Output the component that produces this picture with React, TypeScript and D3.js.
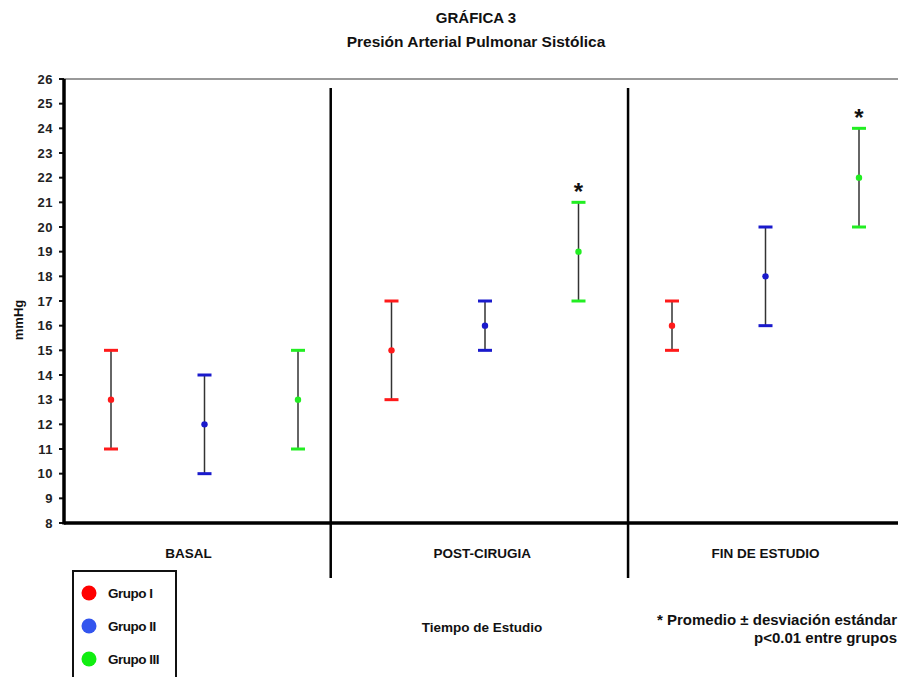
import React from "react";
import * as d3 from "d3";

const categories = ["BASAL", "POST-CIRUGIA", "FIN DE ESTUDIO"];
const groups = ["Grupo I", "Grupo II", "Grupo III"];
const groupColors = ["#ff1a1a", "#1a1acc", "#22ee22"];
const legendColors = ["#ff0000", "#3355ee", "#11ee11"];
// mean, low, high per category per group
const meanValues = [
  [13, 12, 13],
  [15, 16, 19],
  [16, 18, 22],
];
const lowValues = [
  [11, 10, 11],
  [13, 15, 17],
  [15, 16, 20],
];
const highValues = [
  [15, 14, 15],
  [17, 17, 21],
  [17, 20, 24],
];
const significant = [
  [false, false, false],
  [false, false, true],
  [false, false, true],
];
const yTicks = d3.range(8, 27, 1);
const dividerSlots = [2.35, 5.53];
const labelSlots = [0.83, 3.97, 7.0];

const W = 898;
const H = 677;
const FONT = "'Liberation Sans', Arial, sans-serif";

export default function App() {
  const y = d3.scaleLinear().domain([8, 26]).range([523, 79]);
  const slot = d3.scaleLinear().domain([0, 8]).range([111, 859]);
  const x0 = 64;
  const capW = 7;

  return (
    <svg width={W} height={H} style={{ position: "absolute", left: 0, top: 0, background: "#fff" }} fontFamily={FONT}>
      <rect width={W} height={H} fill="#fff" />
      <text x={476} y={23} textAnchor="middle" fontSize={15} fontWeight="bold" fill="#111">GRÁFICA 3</text>
      <text x={476} y={47} textAnchor="middle" fontSize={15.5} fontWeight="bold" fill="#111">Presión Arterial Pulmonar Sistólica</text>

      {/* top border */}
      <line x1={x0} x2={W} y1={y(26)} y2={y(26)} stroke="#777" strokeWidth={1.5} />

      {/* y ticks */}
      {yTicks.map((t) => (
        <g key={t}>
          <line x1={x0 - 5} x2={x0} y1={y(t)} y2={y(t)} stroke="#111" strokeWidth={2} />
          <text x={x0 - 11} y={y(t) + 4.5} textAnchor="end" fontSize={13} fontWeight="bold" fill="#222" letterSpacing={0.5}>{t}</text>
        </g>
      ))}
      <text transform={`translate(23,320) rotate(-90)`} textAnchor="middle" fontSize={13} fontWeight="bold" fill="#111">mmHg</text>

      {/* dividers */}
      {dividerSlots.map((s, i) => (
        <line key={i} x1={slot(s)} x2={slot(s)} y1={88} y2={578} stroke="#000" strokeWidth={2.5} />
      ))}

      {/* axes */}
      <line x1={x0} x2={x0} y1={y(26)} y2={y(8) + 1.5} stroke="#000" strokeWidth={3.5} />
      <line x1={x0} x2={W} y1={y(8)} y2={y(8)} stroke="#000" strokeWidth={3.5} />

      {/* category labels */}
      {categories.map((c, i) => (
        <text key={c} x={slot(labelSlots[i])} y={558} textAnchor="middle" fontSize={13.5} fontWeight="bold" fill="#111">{c}</text>
      ))}

      {/* error bars */}
      {categories.map((c, ci) =>
        groups.map((g, gi) => {
          const cx = slot(ci * 3 + gi);
          const col = groupColors[gi];
          return (
            <g key={c + g}>
              <line x1={cx} x2={cx} y1={y(highValues[ci][gi])} y2={y(lowValues[ci][gi])} stroke="#333" strokeWidth={1.5} />
              <line x1={cx - capW} x2={cx + capW} y1={y(highValues[ci][gi])} y2={y(highValues[ci][gi])} stroke={col} strokeWidth={3} />
              <line x1={cx - capW} x2={cx + capW} y1={y(lowValues[ci][gi])} y2={y(lowValues[ci][gi])} stroke={col} strokeWidth={3} />
              <circle cx={cx} cy={y(meanValues[ci][gi])} r={3.2} fill={col} />
              {significant[ci][gi] && (
                <text x={cx} y={y(highValues[ci][gi]) - 2} textAnchor="middle" fontSize={24} fontWeight="bold" fill="#111">*</text>
              )}
            </g>
          );
        })
      )}

      {/* legend */}
      <rect x={73} y={571} width={103} height={120} fill="#fff" stroke="#111" strokeWidth={2} />
      {groups.map((g, i) => (
        <g key={g}>
          <circle cx={89} cy={593 + i * 33} r={7.5} fill={legendColors[i]} />
          <text x={108} y={598 + i * 33} fontSize={13.5} fontWeight="bold" fill="#111" letterSpacing={-0.5}>{g}</text>
        </g>
      ))}

      <text x={482} y={632} textAnchor="middle" fontSize={13.5} fontWeight="bold" fill="#111">Tiempo de Estudio</text>
      <text x={897} y={625} textAnchor="end" fontSize={15} fontWeight="bold" fill="#111">* Promedio ± desviación estándar</text>
      <text x={897} y={643} textAnchor="end" fontSize={15} fontWeight="bold" fill="#111">p&lt;0.01 entre grupos</text>
    </svg>
  );
}
